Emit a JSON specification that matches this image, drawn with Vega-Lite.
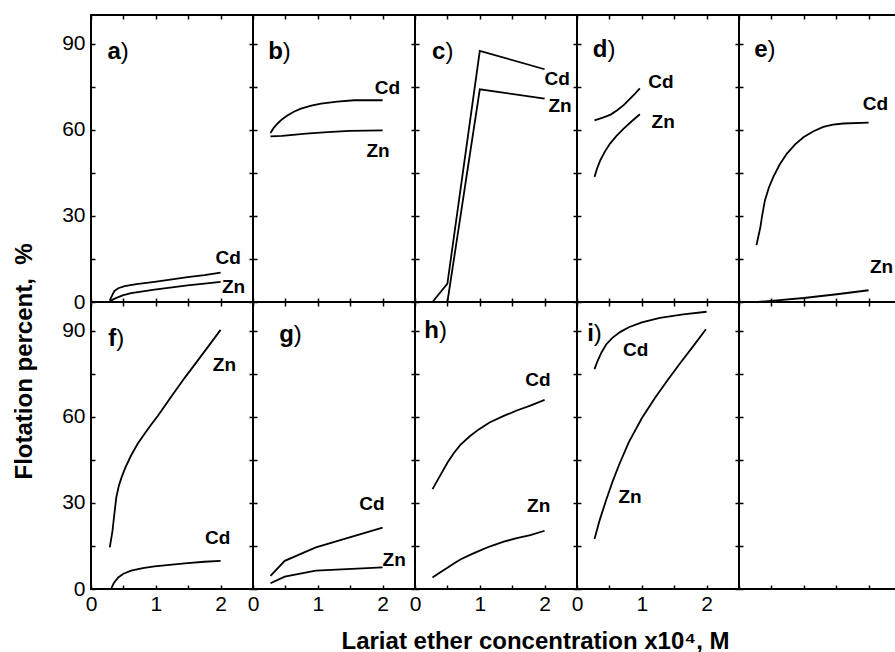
{
  "$schema": "https://vega.github.io/schema/vega-lite/v6.json",
  "background": "white",
  "padding": {"left": 10, "top": 13, "right": 0, "bottom": 0},
  "datasets": {
    "curves": [
      {"p":"a","s":"Cd","x":0.29,"y":0.6},{"p":"a","s":"Cd","x":0.33,"y":2.5},{"p":"a","s":"Cd","x":0.36,"y":3.8},{"p":"a","s":"Cd","x":0.42,"y":4.8},{"p":"a","s":"Cd","x":0.52,"y":5.5},{"p":"a","s":"Cd","x":0.7,"y":6.2},{"p":"a","s":"Cd","x":0.98,"y":7.0},{"p":"a","s":"Cd","x":1.25,"y":7.9},{"p":"a","s":"Cd","x":1.49,"y":8.7},{"p":"a","s":"Cd","x":1.75,"y":9.4},{"p":"a","s":"Cd","x":2.0,"y":10.2},
      {"p":"a","s":"Zn","x":0.29,"y":0.3},{"p":"a","s":"Zn","x":0.35,"y":1.0},{"p":"a","s":"Zn","x":0.42,"y":1.7},{"p":"a","s":"Zn","x":0.5,"y":2.4},{"p":"a","s":"Zn","x":0.62,"y":3.1},{"p":"a","s":"Zn","x":0.8,"y":3.7},{"p":"a","s":"Zn","x":0.98,"y":4.3},{"p":"a","s":"Zn","x":1.25,"y":5.1},{"p":"a","s":"Zn","x":1.49,"y":5.8},{"p":"a","s":"Zn","x":1.75,"y":6.4},{"p":"a","s":"Zn","x":2.0,"y":7.0},
      {"p":"b","s":"Cd","x":0.27,"y":58.9},{"p":"b","s":"Cd","x":0.32,"y":60.7},{"p":"b","s":"Cd","x":0.38,"y":62.2},{"p":"b","s":"Cd","x":0.45,"y":63.7},{"p":"b","s":"Cd","x":0.53,"y":65.0},{"p":"b","s":"Cd","x":0.63,"y":66.3},{"p":"b","s":"Cd","x":0.74,"y":67.4},{"p":"b","s":"Cd","x":0.9,"y":68.4},{"p":"b","s":"Cd","x":1.05,"y":69.1},{"p":"b","s":"Cd","x":1.3,"y":69.8},{"p":"b","s":"Cd","x":1.56,"y":70.3},{"p":"b","s":"Cd","x":2.0,"y":70.3},
      {"p":"b","s":"Zn","x":0.27,"y":57.7},{"p":"b","s":"Zn","x":0.45,"y":57.9},{"p":"b","s":"Zn","x":0.82,"y":58.7},{"p":"b","s":"Zn","x":1.15,"y":59.2},{"p":"b","s":"Zn","x":1.49,"y":59.6},{"p":"b","s":"Zn","x":2.0,"y":59.8},
      {"p":"c","s":"Cd","x":0.27,"y":0},{"p":"c","s":"Cd","x":0.5,"y":6.4},{"p":"c","s":"Cd","x":1.0,"y":87.5},{"p":"c","s":"Cd","x":2.0,"y":81.1},
      {"p":"c","s":"Zn","x":0.5,"y":0},{"p":"c","s":"Zn","x":1.0,"y":74.1},{"p":"c","s":"Zn","x":2.0,"y":70.9},
      {"p":"d","s":"Cd","x":0.27,"y":63.3},{"p":"d","s":"Cd","x":0.41,"y":64.3},{"p":"d","s":"Cd","x":0.52,"y":65.3},{"p":"d","s":"Cd","x":0.62,"y":66.8},{"p":"d","s":"Cd","x":0.72,"y":68.6},{"p":"d","s":"Cd","x":0.82,"y":70.9},{"p":"d","s":"Cd","x":0.9,"y":72.7},{"p":"d","s":"Cd","x":0.97,"y":74.4},
      {"p":"d","s":"Zn","x":0.27,"y":43.6},{"p":"d","s":"Zn","x":0.31,"y":46.5},{"p":"d","s":"Zn","x":0.36,"y":49.4},{"p":"d","s":"Zn","x":0.43,"y":52.4},{"p":"d","s":"Zn","x":0.51,"y":55.2},{"p":"d","s":"Zn","x":0.61,"y":57.9},{"p":"d","s":"Zn","x":0.72,"y":60.4},{"p":"d","s":"Zn","x":0.84,"y":62.9},{"p":"d","s":"Zn","x":0.97,"y":65.4},
      {"p":"e","s":"Cd","x":0.27,"y":19.8},{"p":"e","s":"Cd","x":0.3,"y":23.0},{"p":"e","s":"Cd","x":0.33,"y":26.1},{"p":"e","s":"Cd","x":0.36,"y":30.5},{"p":"e","s":"Cd","x":0.4,"y":35.4},{"p":"e","s":"Cd","x":0.46,"y":39.8},{"p":"e","s":"Cd","x":0.53,"y":43.6},{"p":"e","s":"Cd","x":0.63,"y":48.0},{"p":"e","s":"Cd","x":0.74,"y":51.7},{"p":"e","s":"Cd","x":0.87,"y":55.0},{"p":"e","s":"Cd","x":1.0,"y":57.5},{"p":"e","s":"Cd","x":1.15,"y":59.5},{"p":"e","s":"Cd","x":1.3,"y":61.0},{"p":"e","s":"Cd","x":1.45,"y":61.8},{"p":"e","s":"Cd","x":1.61,"y":62.2},{"p":"e","s":"Cd","x":2.0,"y":62.5},
      {"p":"e","s":"Zn","x":0.28,"y":0},{"p":"e","s":"Zn","x":0.58,"y":0.6},{"p":"e","s":"Zn","x":1.0,"y":1.4},{"p":"e","s":"Zn","x":1.51,"y":2.7},{"p":"e","s":"Zn","x":2.0,"y":4.1},
      {"p":"f","s":"Zn","x":0.29,"y":14.5},{"p":"f","s":"Zn","x":0.33,"y":20.0},{"p":"f","s":"Zn","x":0.36,"y":26.0},{"p":"f","s":"Zn","x":0.39,"y":31.9},{"p":"f","s":"Zn","x":0.43,"y":36.0},{"p":"f","s":"Zn","x":0.47,"y":38.8},{"p":"f","s":"Zn","x":0.53,"y":42.3},{"p":"f","s":"Zn","x":0.62,"y":46.6},{"p":"f","s":"Zn","x":0.72,"y":50.6},{"p":"f","s":"Zn","x":0.83,"y":54.2},{"p":"f","s":"Zn","x":0.93,"y":57.3},{"p":"f","s":"Zn","x":1.03,"y":60.3},{"p":"f","s":"Zn","x":1.24,"y":67.1},{"p":"f","s":"Zn","x":1.44,"y":73.4},{"p":"f","s":"Zn","x":1.75,"y":82.7},{"p":"f","s":"Zn","x":2.0,"y":90.3},
      {"p":"f","s":"Cd","x":0.31,"y":0},{"p":"f","s":"Cd","x":0.35,"y":2.0},{"p":"f","s":"Cd","x":0.42,"y":4.0},{"p":"f","s":"Cd","x":0.5,"y":5.3},{"p":"f","s":"Cd","x":0.62,"y":6.4},{"p":"f","s":"Cd","x":0.8,"y":7.3},{"p":"f","s":"Cd","x":0.98,"y":7.9},{"p":"f","s":"Cd","x":1.25,"y":8.5},{"p":"f","s":"Cd","x":1.49,"y":9.0},{"p":"f","s":"Cd","x":1.75,"y":9.5},{"p":"f","s":"Cd","x":2.0,"y":9.8},
      {"p":"g","s":"Cd","x":0.27,"y":4.6},{"p":"g","s":"Cd","x":0.49,"y":9.8},{"p":"g","s":"Cd","x":0.97,"y":14.5},{"p":"g","s":"Cd","x":2.0,"y":21.4},
      {"p":"g","s":"Zn","x":0.27,"y":2.0},{"p":"g","s":"Zn","x":0.49,"y":4.3},{"p":"g","s":"Zn","x":0.97,"y":6.4},{"p":"g","s":"Zn","x":2.0,"y":7.5},
      {"p":"h","s":"Cd","x":0.27,"y":34.8},{"p":"h","s":"Cd","x":0.37,"y":38.8},{"p":"h","s":"Cd","x":0.5,"y":44.0},{"p":"h","s":"Cd","x":0.6,"y":47.4},{"p":"h","s":"Cd","x":0.7,"y":50.2},{"p":"h","s":"Cd","x":0.85,"y":53.3},{"p":"h","s":"Cd","x":0.99,"y":55.7},{"p":"h","s":"Cd","x":1.15,"y":58.0},{"p":"h","s":"Cd","x":1.37,"y":60.3},{"p":"h","s":"Cd","x":1.57,"y":62.2},{"p":"h","s":"Cd","x":1.78,"y":63.9},{"p":"h","s":"Cd","x":2.0,"y":65.9},
      {"p":"h","s":"Zn","x":0.27,"y":4.0},{"p":"h","s":"Zn","x":0.38,"y":5.7},{"p":"h","s":"Zn","x":0.5,"y":7.4},{"p":"h","s":"Zn","x":0.6,"y":8.9},{"p":"h","s":"Zn","x":0.7,"y":10.3},{"p":"h","s":"Zn","x":0.85,"y":11.9},{"p":"h","s":"Zn","x":0.99,"y":13.3},{"p":"h","s":"Zn","x":1.15,"y":14.8},{"p":"h","s":"Zn","x":1.37,"y":16.5},{"p":"h","s":"Zn","x":1.57,"y":17.7},{"p":"h","s":"Zn","x":1.78,"y":18.8},{"p":"h","s":"Zn","x":2.0,"y":20.3},
      {"p":"i","s":"Cd","x":0.27,"y":76.6},{"p":"i","s":"Cd","x":0.32,"y":79.6},{"p":"i","s":"Cd","x":0.38,"y":82.5},{"p":"i","s":"Cd","x":0.45,"y":85.2},{"p":"i","s":"Cd","x":0.55,"y":87.6},{"p":"i","s":"Cd","x":0.67,"y":89.6},{"p":"i","s":"Cd","x":0.8,"y":91.2},{"p":"i","s":"Cd","x":1.0,"y":92.9},{"p":"i","s":"Cd","x":1.28,"y":94.5},{"p":"i","s":"Cd","x":1.64,"y":95.7},{"p":"i","s":"Cd","x":2.0,"y":96.6},
      {"p":"i","s":"Zn","x":0.27,"y":17.4},{"p":"i","s":"Zn","x":0.35,"y":24.0},{"p":"i","s":"Zn","x":0.45,"y":31.0},{"p":"i","s":"Zn","x":0.55,"y":37.5},{"p":"i","s":"Zn","x":0.65,"y":43.3},{"p":"i","s":"Zn","x":0.8,"y":51.2},{"p":"i","s":"Zn","x":1.0,"y":59.5},{"p":"i","s":"Zn","x":1.2,"y":66.5},{"p":"i","s":"Zn","x":1.4,"y":72.8},{"p":"i","s":"Zn","x":1.6,"y":78.9},{"p":"i","s":"Zn","x":1.8,"y":84.8},{"p":"i","s":"Zn","x":1.99,"y":90.5}
    ],
    "labels": [
      {"p":"a","t":"Cd","x":1.92,"y":13.4},{"p":"a","t":"Zn","x":2.02,"y":3.0},
      {"p":"b","t":"Cd","x":1.88,"y":72.6},{"p":"b","t":"Zn","x":1.75,"y":50.5},
      {"p":"c","t":"Cd","x":2.0,"y":75.5},{"p":"c","t":"Zn","x":2.06,"y":66.2},
      {"p":"d","t":"Cd","x":1.1,"y":74.7},{"p":"d","t":"Zn","x":1.15,"y":60.8},
      {"p":"e","t":"Cd","x":1.91,"y":67.0},{"p":"e","t":"Zn","x":2.02,"y":10.1},
      {"p":"f","t":"Zn","x":1.88,"y":76.0},{"p":"f","t":"Cd","x":1.76,"y":15.7},
      {"p":"g","t":"Cd","x":1.64,"y":27.5},{"p":"g","t":"Zn","x":2.0,"y":8.1},
      {"p":"h","t":"Cd","x":1.7,"y":70.8},{"p":"h","t":"Zn","x":1.73,"y":26.7},
      {"p":"i","t":"Cd","x":0.71,"y":81.2},{"p":"i","t":"Zn","x":0.64,"y":30.0}
    ],
    "panels": [
      {"p":"a","t":"a","x":0.46,"y":84.6},{"p":"b","t":"b","x":0.46,"y":84.5},{"p":"c","t":"c","x":0.47,"y":84.5},
      {"p":"d","t":"d","x":0.47,"y":85.4},{"p":"e","t":"e","x":0.44,"y":85.4},{"p":"f","t":"f","x":0.39,"y":84.7},
      {"p":"g","t":"g","x":0.63,"y":86.2},{"p":"h","t":"h","x":0.37,"y":87.6},{"p":"i","t":"i","x":0.26,"y":86.4}
    ]
  },
  "config": {
    "font": "Liberation Sans",
    "view": {"stroke": "black", "strokeWidth": 2},
    "axis": {"domain": false, "grid": false, "tickSize": -4, "tickColor": "black", "tickWidth": 1.5,
      "labelFont": "Liberation Sans", "labelFontSize": 21, "labelColor": "black", "labelFlush": false, "labelOverlap": false,
      "titleFont": "Liberation Sans", "titleFontSize": 24, "titleFontWeight": "bold", "titleColor": "black"},
    "axisX": {"labelPadding": 8},
    "axisY": {"labelPadding": 10},
    "text": {"font": "Liberation Sans", "color": "black"},
    "line": {"color": "black", "strokeWidth": 1.8}
  },
  "columns": 5,
  "spacing": 0,
  "bounds": "flush",
  "concat": [
    {"width": 162, "height": 287, "resolve": {"axis": {"x": "independent", "y": "independent"}}, "layer": [
      {"data": {"name": "curves"}, "transform": [{"filter": "datum.p == 'a'"}], "mark": "line",
       "encoding": {"x": {"field": "x", "type": "quantitative", "title": null, "scale": {"domain": [0, 2.5], "nice": false}, "axis": {"orient": "bottom", "values": [0,0.5,1,1.5,2], "labels": false}},
                    "y": {"field": "y", "type": "quantitative", "title": null, "scale": {"domain": [0, 100], "nice": false}, "axis": {"orient": "left", "values": [0,15,30,45,60,75,90], "labelExpr": "datum.value % 30 === 0 ? '' + datum.value : ''"}},
                    "detail": {"field": "s"}}},
      {"data": {"name": "labels"}, "transform": [{"filter": "datum.p == 'a'"}], "mark": {"type": "text", "align": "left", "baseline": "alphabetic", "fontSize": 19, "fontWeight": "bold"},
       "encoding": {"x": {"field": "x", "type": "quantitative", "title": null, "axis": {"orient": "top", "values": [0,0.5,1,1.5,2], "labels": false}},
                    "y": {"field": "y", "type": "quantitative", "title": null, "axis": {"orient": "right", "values": [0,15,30,45,60,75,90], "labels": false}},
                    "text": {"field": "t"}}},
      {"data": {"name": "panels"}, "transform": [{"filter": "datum.p == 'a'"}], "mark": {"type": "text", "align": "right", "baseline": "alphabetic", "fontSize": 24, "fontWeight": "bold"},
       "encoding": {"x": {"field": "x", "type": "quantitative", "axis": null}, "y": {"field": "y", "type": "quantitative", "axis": null}, "text": {"field": "t"}}},
      {"data": {"name": "panels"}, "transform": [{"filter": "datum.p == 'a'"}], "mark": {"type": "text", "align": "left", "baseline": "alphabetic", "fontSize": 24, "text": ")"},
       "encoding": {"x": {"field": "x", "type": "quantitative", "axis": null}, "y": {"field": "y", "type": "quantitative", "axis": null}}}
    ]},
    {"width": 162, "height": 287, "resolve": {"axis": {"x": "independent", "y": "independent"}}, "layer": [
      {"data": {"name": "curves"}, "transform": [{"filter": "datum.p == 'b'"}], "mark": "line",
       "encoding": {"x": {"field": "x", "type": "quantitative", "title": null, "scale": {"domain": [0, 2.5], "nice": false}, "axis": {"orient": "bottom", "values": [0,0.5,1,1.5,2], "labels": false}},
                    "y": {"field": "y", "type": "quantitative", "title": null, "scale": {"domain": [0, 100], "nice": false}, "axis": {"orient": "left", "values": [0,15,30,45,60,75,90], "labels": false}},
                    "detail": {"field": "s"}}},
      {"data": {"name": "labels"}, "transform": [{"filter": "datum.p == 'b'"}], "mark": {"type": "text", "align": "left", "baseline": "alphabetic", "fontSize": 19, "fontWeight": "bold"},
       "encoding": {"x": {"field": "x", "type": "quantitative", "title": null, "axis": {"orient": "top", "values": [0,0.5,1,1.5,2], "labels": false}},
                    "y": {"field": "y", "type": "quantitative", "title": null, "axis": {"orient": "right", "values": [0,15,30,45,60,75,90], "labels": false}},
                    "text": {"field": "t"}}},
      {"data": {"name": "panels"}, "transform": [{"filter": "datum.p == 'b'"}], "mark": {"type": "text", "align": "right", "baseline": "alphabetic", "fontSize": 24, "fontWeight": "bold"},
       "encoding": {"x": {"field": "x", "type": "quantitative", "axis": null}, "y": {"field": "y", "type": "quantitative", "axis": null}, "text": {"field": "t"}}},
      {"data": {"name": "panels"}, "transform": [{"filter": "datum.p == 'b'"}], "mark": {"type": "text", "align": "left", "baseline": "alphabetic", "fontSize": 24, "text": ")"},
       "encoding": {"x": {"field": "x", "type": "quantitative", "axis": null}, "y": {"field": "y", "type": "quantitative", "axis": null}}}
    ]},
    {"width": 162, "height": 287, "resolve": {"axis": {"x": "independent", "y": "independent"}}, "layer": [
      {"data": {"name": "curves"}, "transform": [{"filter": "datum.p == 'c'"}], "mark": "line",
       "encoding": {"x": {"field": "x", "type": "quantitative", "title": null, "scale": {"domain": [0, 2.5], "nice": false}, "axis": {"orient": "bottom", "values": [0,0.5,1,1.5,2], "labels": false}},
                    "y": {"field": "y", "type": "quantitative", "title": null, "scale": {"domain": [0, 100], "nice": false}, "axis": {"orient": "left", "values": [0,15,30,45,60,75,90], "labels": false}},
                    "detail": {"field": "s"}}},
      {"data": {"name": "labels"}, "transform": [{"filter": "datum.p == 'c'"}], "mark": {"type": "text", "align": "left", "baseline": "alphabetic", "fontSize": 19, "fontWeight": "bold"},
       "encoding": {"x": {"field": "x", "type": "quantitative", "title": null, "axis": {"orient": "top", "values": [0,0.5,1,1.5,2], "labels": false}},
                    "y": {"field": "y", "type": "quantitative", "title": null, "axis": {"orient": "right", "values": [0,15,30,45,60,75,90], "labels": false}},
                    "text": {"field": "t"}}},
      {"data": {"name": "panels"}, "transform": [{"filter": "datum.p == 'c'"}], "mark": {"type": "text", "align": "right", "baseline": "alphabetic", "fontSize": 24, "fontWeight": "bold"},
       "encoding": {"x": {"field": "x", "type": "quantitative", "axis": null}, "y": {"field": "y", "type": "quantitative", "axis": null}, "text": {"field": "t"}}},
      {"data": {"name": "panels"}, "transform": [{"filter": "datum.p == 'c'"}], "mark": {"type": "text", "align": "left", "baseline": "alphabetic", "fontSize": 24, "text": ")"},
       "encoding": {"x": {"field": "x", "type": "quantitative", "axis": null}, "y": {"field": "y", "type": "quantitative", "axis": null}}}
    ]},
    {"width": 162, "height": 287, "resolve": {"axis": {"x": "independent", "y": "independent"}}, "layer": [
      {"data": {"name": "curves"}, "transform": [{"filter": "datum.p == 'd'"}], "mark": "line",
       "encoding": {"x": {"field": "x", "type": "quantitative", "title": null, "scale": {"domain": [0, 2.5], "nice": false}, "axis": {"orient": "bottom", "values": [0,0.5,1,1.5,2], "labels": false}},
                    "y": {"field": "y", "type": "quantitative", "title": null, "scale": {"domain": [0, 100], "nice": false}, "axis": {"orient": "left", "values": [0,15,30,45,60,75,90], "labels": false}},
                    "detail": {"field": "s"}}},
      {"data": {"name": "labels"}, "transform": [{"filter": "datum.p == 'd'"}], "mark": {"type": "text", "align": "left", "baseline": "alphabetic", "fontSize": 19, "fontWeight": "bold"},
       "encoding": {"x": {"field": "x", "type": "quantitative", "title": null, "axis": {"orient": "top", "values": [0,0.5,1,1.5,2], "labels": false}},
                    "y": {"field": "y", "type": "quantitative", "title": null, "axis": {"orient": "right", "values": [0,15,30,45,60,75,90], "labels": false}},
                    "text": {"field": "t"}}},
      {"data": {"name": "panels"}, "transform": [{"filter": "datum.p == 'd'"}], "mark": {"type": "text", "align": "right", "baseline": "alphabetic", "fontSize": 24, "fontWeight": "bold"},
       "encoding": {"x": {"field": "x", "type": "quantitative", "axis": null}, "y": {"field": "y", "type": "quantitative", "axis": null}, "text": {"field": "t"}}},
      {"data": {"name": "panels"}, "transform": [{"filter": "datum.p == 'd'"}], "mark": {"type": "text", "align": "left", "baseline": "alphabetic", "fontSize": 24, "text": ")"},
       "encoding": {"x": {"field": "x", "type": "quantitative", "axis": null}, "y": {"field": "y", "type": "quantitative", "axis": null}}}
    ]},
    {"width": 162, "height": 287, "resolve": {"axis": {"x": "independent", "y": "independent"}}, "layer": [
      {"data": {"name": "curves"}, "transform": [{"filter": "datum.p == 'e'"}], "mark": "line",
       "encoding": {"x": {"field": "x", "type": "quantitative", "title": null, "scale": {"domain": [0, 2.5], "nice": false}, "axis": {"orient": "bottom", "values": [0,0.5,1,1.5,2], "labels": false}},
                    "y": {"field": "y", "type": "quantitative", "title": null, "scale": {"domain": [0, 100], "nice": false}, "axis": {"orient": "left", "values": [0,15,30,45,60,75,90], "labels": false}},
                    "detail": {"field": "s"}}},
      {"data": {"name": "labels"}, "transform": [{"filter": "datum.p == 'e'"}], "mark": {"type": "text", "align": "left", "baseline": "alphabetic", "fontSize": 19, "fontWeight": "bold"},
       "encoding": {"x": {"field": "x", "type": "quantitative", "title": null, "axis": {"orient": "top", "values": [0,0.5,1,1.5,2], "labels": false}},
                    "y": {"field": "y", "type": "quantitative", "title": null, "axis": {"orient": "right", "values": [0,15,30,45,60,75,90], "labels": false}},
                    "text": {"field": "t"}}},
      {"data": {"name": "panels"}, "transform": [{"filter": "datum.p == 'e'"}], "mark": {"type": "text", "align": "right", "baseline": "alphabetic", "fontSize": 24, "fontWeight": "bold"},
       "encoding": {"x": {"field": "x", "type": "quantitative", "axis": null}, "y": {"field": "y", "type": "quantitative", "axis": null}, "text": {"field": "t"}}},
      {"data": {"name": "panels"}, "transform": [{"filter": "datum.p == 'e'"}], "mark": {"type": "text", "align": "left", "baseline": "alphabetic", "fontSize": 24, "text": ")"},
       "encoding": {"x": {"field": "x", "type": "quantitative", "axis": null}, "y": {"field": "y", "type": "quantitative", "axis": null}}}
    ]},
    {"width": 162, "height": 287, "resolve": {"axis": {"x": "independent", "y": "independent"}}, "layer": [
      {"data": {"name": "curves"}, "transform": [{"filter": "datum.p == 'f'"}], "mark": "line",
       "encoding": {"x": {"field": "x", "type": "quantitative", "title": null, "scale": {"domain": [0, 2.5], "nice": false}, "axis": {"orient": "bottom", "values": [0,0.5,1,1.5,2], "labelExpr": "datum.value % 1 === 0 ? '' + datum.value : ''"}},
                    "y": {"field": "y", "type": "quantitative", "scale": {"domain": [0, 100], "nice": false}, "axis": {"orient": "left", "values": [0,15,30,45,60,75,90], "labelExpr": "datum.value % 30 === 0 ? '' + datum.value : ''", "title": "Flotation percent,\u00a0 %", "titleX": -60, "titleY": 59, "titleBaseline": "alphabetic", "titleAlign": "center", "titleAngle": 270}},
                    "detail": {"field": "s"}}},
      {"data": {"name": "labels"}, "transform": [{"filter": "datum.p == 'f'"}], "mark": {"type": "text", "align": "left", "baseline": "alphabetic", "fontSize": 19, "fontWeight": "bold"},
       "encoding": {"x": {"field": "x", "type": "quantitative", "title": null, "axis": {"orient": "top", "values": [0,0.5,1,1.5,2], "labels": false}},
                    "y": {"field": "y", "type": "quantitative", "title": null, "axis": {"orient": "right", "values": [0,15,30,45,60,75,90], "labels": false}},
                    "text": {"field": "t"}}},
      {"data": {"name": "panels"}, "transform": [{"filter": "datum.p == 'f'"}], "mark": {"type": "text", "align": "right", "baseline": "alphabetic", "fontSize": 24, "fontWeight": "bold"},
       "encoding": {"x": {"field": "x", "type": "quantitative", "axis": null}, "y": {"field": "y", "type": "quantitative", "axis": null}, "text": {"field": "t"}}},
      {"data": {"name": "panels"}, "transform": [{"filter": "datum.p == 'f'"}], "mark": {"type": "text", "align": "left", "baseline": "alphabetic", "fontSize": 24, "text": ")"},
       "encoding": {"x": {"field": "x", "type": "quantitative", "axis": null}, "y": {"field": "y", "type": "quantitative", "axis": null}}}
    ]},
    {"width": 162, "height": 287, "resolve": {"axis": {"x": "independent", "y": "independent"}}, "layer": [
      {"data": {"name": "curves"}, "transform": [{"filter": "datum.p == 'g'"}], "mark": "line",
       "encoding": {"x": {"field": "x", "type": "quantitative", "title": null, "scale": {"domain": [0, 2.5], "nice": false}, "axis": {"orient": "bottom", "values": [0,0.5,1,1.5,2], "labelExpr": "datum.value % 1 === 0 ? '' + datum.value : ''"}},
                    "y": {"field": "y", "type": "quantitative", "title": null, "scale": {"domain": [0, 100], "nice": false}, "axis": {"orient": "left", "values": [0,15,30,45,60,75,90], "labels": false}},
                    "detail": {"field": "s"}}},
      {"data": {"name": "labels"}, "transform": [{"filter": "datum.p == 'g'"}], "mark": {"type": "text", "align": "left", "baseline": "alphabetic", "fontSize": 19, "fontWeight": "bold"},
       "encoding": {"x": {"field": "x", "type": "quantitative", "title": null, "axis": {"orient": "top", "values": [0,0.5,1,1.5,2], "labels": false}},
                    "y": {"field": "y", "type": "quantitative", "title": null, "axis": {"orient": "right", "values": [0,15,30,45,60,75,90], "labels": false}},
                    "text": {"field": "t"}}},
      {"data": {"name": "panels"}, "transform": [{"filter": "datum.p == 'g'"}], "mark": {"type": "text", "align": "right", "baseline": "alphabetic", "fontSize": 24, "fontWeight": "bold"},
       "encoding": {"x": {"field": "x", "type": "quantitative", "axis": null}, "y": {"field": "y", "type": "quantitative", "axis": null}, "text": {"field": "t"}}},
      {"data": {"name": "panels"}, "transform": [{"filter": "datum.p == 'g'"}], "mark": {"type": "text", "align": "left", "baseline": "alphabetic", "fontSize": 24, "text": ")"},
       "encoding": {"x": {"field": "x", "type": "quantitative", "axis": null}, "y": {"field": "y", "type": "quantitative", "axis": null}}}
    ]},
    {"width": 162, "height": 287, "resolve": {"axis": {"x": "independent", "y": "independent"}}, "layer": [
      {"data": {"name": "curves"}, "transform": [{"filter": "datum.p == 'h'"}], "mark": "line",
       "encoding": {"x": {"field": "x", "type": "quantitative", "scale": {"domain": [0, 2.5], "nice": false}, "axis": {"orient": "bottom", "values": [0,0.5,1,1.5,2], "labelExpr": "datum.value % 1 === 0 ? '' + datum.value : ''", "title": "Lariat ether concentration x10\u2074, M", "titleX": 120, "titleY": 59, "titleBaseline": "alphabetic", "titleAlign": "center"}},
                    "y": {"field": "y", "type": "quantitative", "title": null, "scale": {"domain": [0, 100], "nice": false}, "axis": {"orient": "left", "values": [0,15,30,45,60,75,90], "labels": false}},
                    "detail": {"field": "s"}}},
      {"data": {"name": "labels"}, "transform": [{"filter": "datum.p == 'h'"}], "mark": {"type": "text", "align": "left", "baseline": "alphabetic", "fontSize": 19, "fontWeight": "bold"},
       "encoding": {"x": {"field": "x", "type": "quantitative", "title": null, "axis": {"orient": "top", "values": [0,0.5,1,1.5,2], "labels": false}},
                    "y": {"field": "y", "type": "quantitative", "title": null, "axis": {"orient": "right", "values": [0,15,30,45,60,75,90], "labels": false}},
                    "text": {"field": "t"}}},
      {"data": {"name": "panels"}, "transform": [{"filter": "datum.p == 'h'"}], "mark": {"type": "text", "align": "right", "baseline": "alphabetic", "fontSize": 24, "fontWeight": "bold"},
       "encoding": {"x": {"field": "x", "type": "quantitative", "axis": null}, "y": {"field": "y", "type": "quantitative", "axis": null}, "text": {"field": "t"}}},
      {"data": {"name": "panels"}, "transform": [{"filter": "datum.p == 'h'"}], "mark": {"type": "text", "align": "left", "baseline": "alphabetic", "fontSize": 24, "text": ")"},
       "encoding": {"x": {"field": "x", "type": "quantitative", "axis": null}, "y": {"field": "y", "type": "quantitative", "axis": null}}}
    ]},
    {"width": 162, "height": 287, "resolve": {"axis": {"x": "independent", "y": "independent"}}, "layer": [
      {"data": {"name": "curves"}, "transform": [{"filter": "datum.p == 'i'"}], "mark": "line",
       "encoding": {"x": {"field": "x", "type": "quantitative", "title": null, "scale": {"domain": [0, 2.5], "nice": false}, "axis": {"orient": "bottom", "values": [0,0.5,1,1.5,2], "labelExpr": "datum.value % 1 === 0 ? '' + datum.value : ''"}},
                    "y": {"field": "y", "type": "quantitative", "title": null, "scale": {"domain": [0, 100], "nice": false}, "axis": {"orient": "left", "values": [0,15,30,45,60,75,90], "labels": false}},
                    "detail": {"field": "s"}}},
      {"data": {"name": "labels"}, "transform": [{"filter": "datum.p == 'i'"}], "mark": {"type": "text", "align": "left", "baseline": "alphabetic", "fontSize": 19, "fontWeight": "bold"},
       "encoding": {"x": {"field": "x", "type": "quantitative", "title": null, "axis": {"orient": "top", "values": [0,0.5,1,1.5,2], "labels": false}},
                    "y": {"field": "y", "type": "quantitative", "title": null, "axis": {"orient": "right", "values": [0,15,30,45,60,75,90], "labels": false}},
                    "text": {"field": "t"}}},
      {"data": {"name": "panels"}, "transform": [{"filter": "datum.p == 'i'"}], "mark": {"type": "text", "align": "right", "baseline": "alphabetic", "fontSize": 24, "fontWeight": "bold"},
       "encoding": {"x": {"field": "x", "type": "quantitative", "axis": null}, "y": {"field": "y", "type": "quantitative", "axis": null}, "text": {"field": "t"}}},
      {"data": {"name": "panels"}, "transform": [{"filter": "datum.p == 'i'"}], "mark": {"type": "text", "align": "left", "baseline": "alphabetic", "fontSize": 24, "text": ")"},
       "encoding": {"x": {"field": "x", "type": "quantitative", "axis": null}, "y": {"field": "y", "type": "quantitative", "axis": null}}}
    ]},
    {"width": 162, "height": 287, "resolve": {"axis": {"x": "independent", "y": "independent"}}, "layer": [
      {"data": {"name": "curves"}, "transform": [{"filter": "datum.p == 'j'"}], "mark": "line",
       "encoding": {"x": {"field": "x", "type": "quantitative", "title": null, "scale": {"domain": [0, 2.5], "nice": false}, "axis": {"orient": "bottom", "values": [0,0.5,1,1.5,2], "labels": false}},
                    "y": {"field": "y", "type": "quantitative", "title": null, "scale": {"domain": [0, 100], "nice": false}, "axis": {"orient": "left", "values": [0,15,30,45,60,75,90], "labels": false}},
                    "detail": {"field": "s"}}},
      {"data": {"name": "labels"}, "transform": [{"filter": "datum.p == 'j'"}], "mark": {"type": "text", "align": "left", "baseline": "alphabetic", "fontSize": 19, "fontWeight": "bold"},
       "encoding": {"x": {"field": "x", "type": "quantitative", "title": null, "axis": {"orient": "top", "values": [0,0.5,1,1.5,2], "labels": false}},
                    "y": {"field": "y", "type": "quantitative", "title": null, "axis": {"orient": "right", "values": [0,15,30,45,60,75,90], "labels": false}},
                    "text": {"field": "t"}}}
    ]}
  ]
}
